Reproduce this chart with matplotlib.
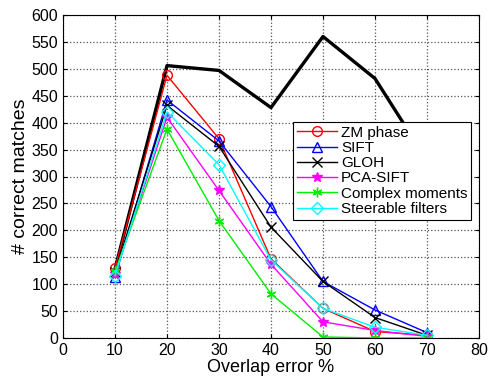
import matplotlib.pyplot as plt

plt.rcParams['font.family'] = ['Liberation Sans', 'DejaVu Sans']

overlap = [10, 20, 30, 40, 50, 60, 70]

# unlabeled thick black curve
total = [128, 506, 497, 428, 560, 482, 330]

zm_phase = [130, 488, 370, 147, 55, 12, 5]
sift = [113, 442, 366, 244, 105, 52, 10]
gloh = [122, 432, 356, 206, 105, 38, 5]
pca_sift = [118, 410, 274, 137, 30, 14, 3]
complex_moments = [124, 388, 218, 82, 2, 0, 0]
steerable = [116, 420, 322, 145, 55, 20, 5]

series = [
    ('ZM phase', zm_phase, 'red', 'o'),
    ('SIFT', sift, 'blue', '^'),
    ('GLOH', gloh, 'black', 'x'),
    ('PCA-SIFT', pca_sift, 'magenta', '*'),
    ('Complex moments', complex_moments, '#00ee00', (6, 2, 0)),
    ('Steerable filters', steerable, 'cyan', 'D'),
]

fig = plt.figure(figsize=(4.89, 3.85), dpi=100)
ax = fig.add_axes([63 / 489, 1 - 338 / 385, (479 - 63) / 489, (338 - 15) / 385])

ax.plot(overlap, total, color='black', linewidth=2.4)
for name, vals, col, mk in series:
    ms = 7 if mk != 'D' else 6
    ax.plot(overlap, vals, color=col, marker=mk, markersize=ms,
            markerfacecolor='none' if mk in ('o', '^', 'D') else col,
            markeredgewidth=1.0, linewidth=1.0, label=name)

ax.set_xlim(0, 80)
ax.set_ylim(0, 600)
ax.set_xticks(range(0, 81, 10))
ax.set_yticks(range(0, 601, 50))
ax.tick_params(direction='in', labelsize=11.5, length=3, top=True, right=True)
ax.grid(True, linestyle=':', color='#555555', linewidth=0.9)
ax.set_xlabel('Overlap error %', fontsize=13, labelpad=1)
ax.set_ylabel('# correct matches', fontsize=14, labelpad=2)

leg = ax.legend(loc='upper left', bbox_to_anchor=((293 - 63) / 416, 1 - (122 - 15) / 323),
                fontsize=11, fancybox=False, framealpha=1, edgecolor='black',
                borderpad=0.25, labelspacing=0.08, handlelength=2.6, handletextpad=0.3,
                borderaxespad=0)
leg.get_frame().set_linewidth(0.8)

fig.savefig('out.png', dpi=100)
